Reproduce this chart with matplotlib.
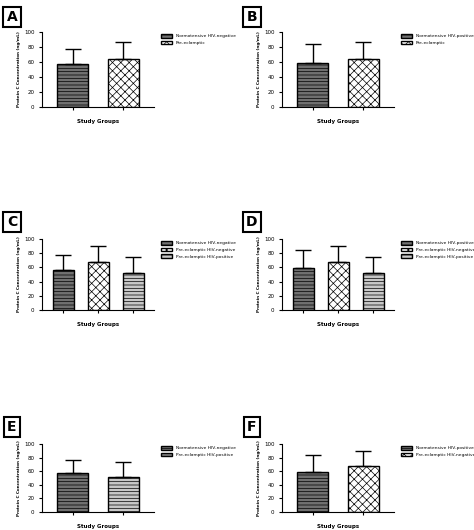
import matplotlib.pyplot as plt

W, H = 474, 530

panel_letters = ["A", "B", "C", "D", "E", "F"]
labels_A = ["Normotensive HIV-negative", "Pre-eclamptic"]
labels_B = ["Normotensive HIV-positive", "Pre-eclamptic"]
labels_C = ["Normotensive HIV-negative", "Pre-eclamptic HIV-negative", "Pre-eclamptic HIV-positive"]
labels_D = ["Normotensive HIV-positive", "Pre-eclamptic HIV-negative", "Pre-eclamptic HIV-positive"]
labels_E = ["Normotensive HIV-negative", "Pre-eclamptic HIV-positive"]
labels_F = ["Normotensive HIV-positive", "Pre-eclamptic HIV-negative"]

means_A = [57, 64]
errs_A = [20, 23]
means_B = [59, 64]
errs_B = [25, 23]
means_C = [57, 68, 52]
errs_C = [20, 22, 22]
means_D = [59, 68, 52]
errs_D = [25, 22, 22]
means_E = [57, 52]
errs_E = [20, 22]
means_F = [59, 68]
errs_F = [25, 22]

# style per group name: (facecolor, hatch)
styles = {
    "Normotensive HIV-negative": ("#707070", "-----"),
    "Normotensive HIV-positive": ("#707070", "-----"),
    "Pre-eclamptic": ("white", "xxxx"),
    "Pre-eclamptic HIV-negative": ("white", "xxxx"),
    "Pre-eclamptic HIV-positive": ("#c8c8c8", "-----"),
}

panels = [
    (labels_A, means_A, errs_A),
    (labels_B, means_B, errs_B),
    (labels_C, means_C, errs_C),
    (labels_D, means_D, errs_D),
    (labels_E, means_E, errs_E),
    (labels_F, means_F, errs_F),
]

# pixel positions: column x offsets, row (top, bottom, letter box y)
col_x = [0, 240]
rows = [(32, 107, 5), (239, 310, 210), (444, 512, 415)]

plt.rcParams['hatch.linewidth'] = 0.5
fig = plt.figure(figsize=(W / 100, H / 100), dpi=100)

for i, (labels, means, errs) in enumerate(panels):
    r, c = divmod(i, 2)
    top, bot, box_y = rows[r]
    x0 = col_x[c]
    ax = fig.add_axes([(x0 + 42) / W, 1 - bot / H, 112 / W, (bot - top) / H])
    pos = list(range(len(means)))
    for p, lab, m, e in zip(pos, labels, means, errs):
        fc, hatch = styles[lab]
        ax.bar(p, m, width=0.6, color=fc, hatch=hatch, edgecolor="black",
               linewidth=1.0, label=lab)
        ax.errorbar(p, m, yerr=[[0], [e]], color="black", capsize=6,
                    elinewidth=1, capthick=1)
    ax.set_ylim(0, 100)
    ax.set_xlim(-0.6, len(means) - 0.4)
    ax.set_yticks([0, 20, 40, 60, 80, 100])
    ax.set_xticks(pos)
    ax.set_xticklabels([])
    ax.tick_params(labelsize=4, length=2, width=0.8)
    for s in ["top", "right"]:
        ax.spines[s].set_visible(False)
    ax.set_xlabel("Study Groups", fontsize=4, fontweight="bold", labelpad=3)
    ax.set_ylabel("Protein C Concentration (ng/mL)", fontsize=3, fontweight="bold", labelpad=2)
    ax.legend(loc="upper left", bbox_to_anchor=(1.05, 1.0), fontsize=3.2,
              frameon=False, handlelength=2.5, handleheight=1.0, borderaxespad=0)
    fig.text((x0 + 12) / W, 1 - (box_y + 12) / H, panel_letters[i], fontsize=10,
             fontweight="bold", ha="center", va="center",
             bbox=dict(boxstyle="square,pad=0.25", fc="white", ec="black", lw=1.5))

fig.savefig("out.png", dpi=100)
